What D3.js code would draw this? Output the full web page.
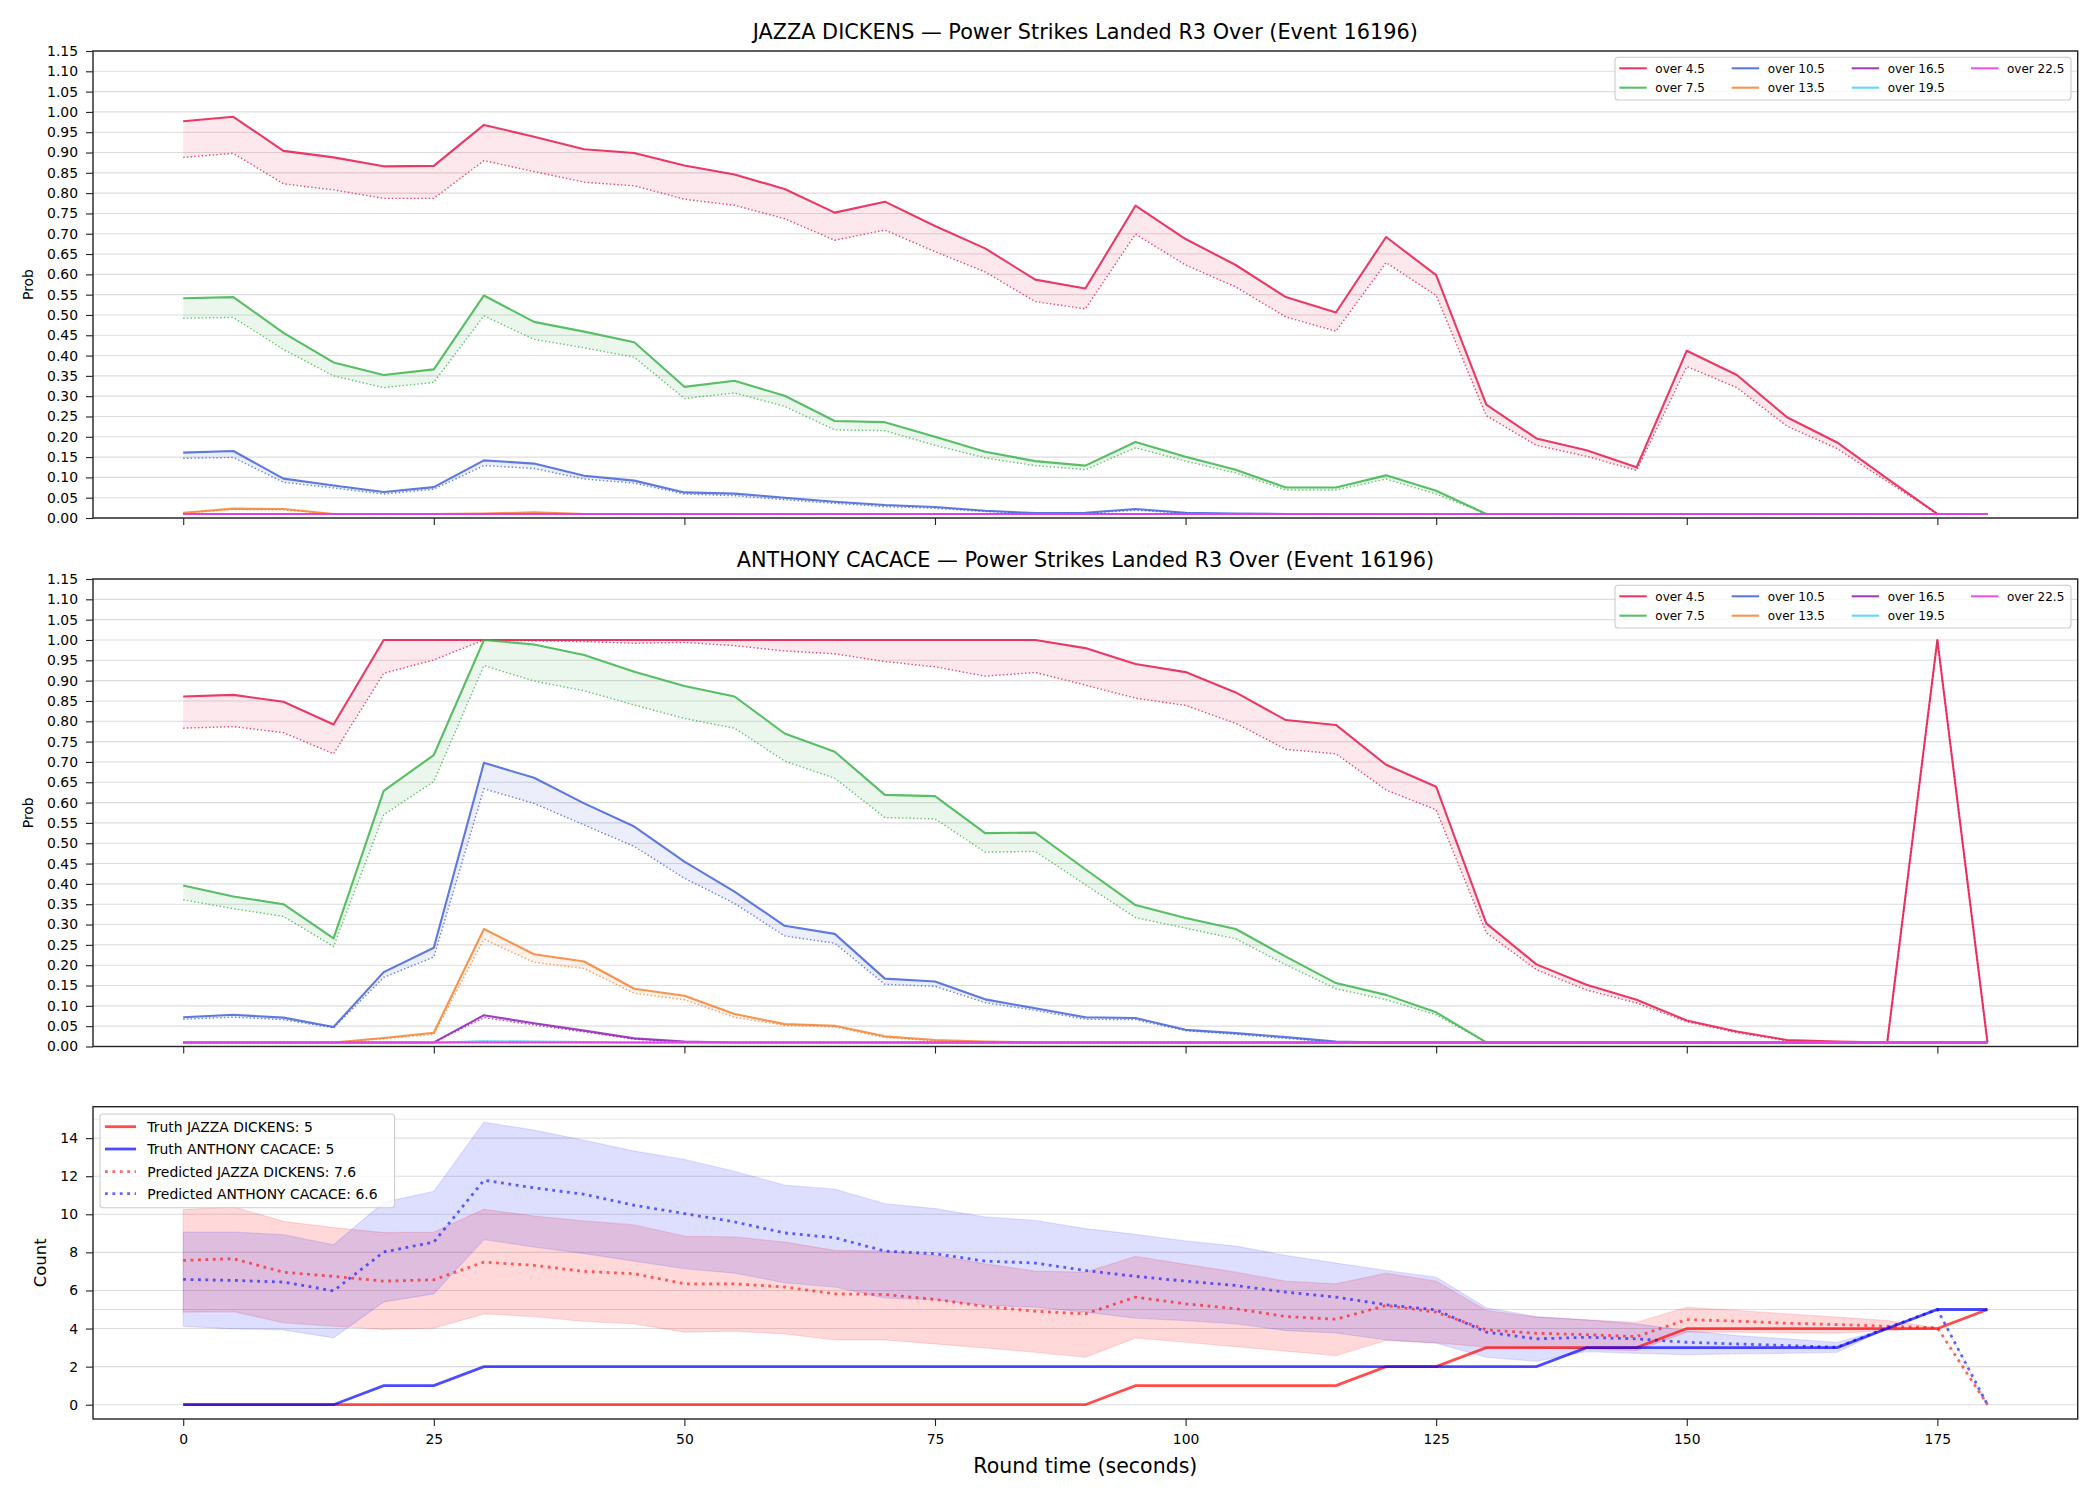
<!DOCTYPE html>
<html><head><meta charset="utf-8">
<script src="https://cdn.jsdelivr.net/npm/d3@7"></script>
<style>body{margin:0;background:#fff}</style>
</head><body>
<svg id="chart" width="2100" height="1500" xmlns="http://www.w3.org/2000/svg"></svg>
<script>
// ---------------- DATA ----------------
const times = [0,5,10,15,20,25,30,35,40,45,50,55,60,65,70,75,80,85,90,95,100,105,110,115,120,125,130,135,140,145,150,155,160,165,170,175,180];
const xTicks = [0,25,50,75,100,125,150,175];
const probTicks = [0,0.05,0.10,0.15,0.20,0.25,0.30,0.35,0.40,0.45,0.50,0.55,0.60,0.65,0.70,0.75,0.80,0.85,0.90,0.95,1.00,1.05,1.10,1.15];
const countTicks = [0,2,4,6,8,10,12,14];
const overLabels = ["over 4.5","over 7.5","over 10.5","over 13.5","over 16.5","over 19.5","over 22.5"];
const overColors = ["#e6194b","#3cb44b","#4363d8","#f58231","#911eb4","#42d4f4","#f032e6"];

// JAZZA DICKENS panel (solid = line, dotted = model)
const jdOver45 = [.977,.988,.904,.888,.866,.867,.968,.939,.908,.899,.868,.846,.810,.752,.779,.719,.664,.587,.565,.769,.687,.623,.544,.506,.692,.598,.279,.196,.167,.125,.412,.352,.248,.186,.097,.01,.01];
const jdOver45Model = [.888,.898,.823,.808,.787,.787,.880,.853,.827,.818,.785,.770,.737,.684,.709,.656,.606,.533,.515,.699,.623,.569,.495,.460,.629,.548,.252,.179,.152,.117,.373,.321,.226,.171,.090,.01,.01];
const jdOver75 = [.541,.544,.456,.383,.352,.366,.548,.483,.459,.433,.323,.338,.301,.239,.236,.200,.163,.140,.129,.187,.151,.119,.075,.075,.105,.067,.01,.01,.01,.01,.01,.01,.01,.01,.01,.01,.01];
const jdOver75Model = [.492,.494,.415,.350,.321,.334,.498,.440,.419,.396,.294,.308,.275,.217,.215,.179,.148,.129,.119,.173,.140,.111,.069,.069,.096,.059,.01,.01,.01,.01,.01,.01,.01,.01,.01,.01,.01];
const jdOver105 = [.161,.165,.097,.080,.064,.076,.142,.134,.104,.092,.063,.060,.050,.040,.032,.027,.018,.012,.013,.022,.013,.011,.01,.01,.01,.01,.01,.01,.01,.01,.01,.01,.01,.01,.01,.01,.01];
const jdOver105Model = [.147,.149,.088,.074,.059,.071,.129,.122,.096,.086,.059,.055,.045,.036,.028,.024,.016,.011,.012,.019,.012,.010,.01,.01,.01,.01,.01,.01,.01,.01,.01,.01,.01,.01,.01,.01,.01];
const jdOver135 = [.013,.023,.022,.01,.01,.01,.011,.014,.01,.01,.01,.01,.01,.01,.01,.01,.01,.01,.01,.01,.01,.01,.01,.01,.01,.01,.01,.01,.01,.01,.01,.01,.01,.01,.01,.01,.01];
const jdOver135Model = [.012,.021,.020,.01,.01,.01,.01,.013,.01,.01,.01,.01,.01,.01,.01,.01,.01,.01,.01,.01,.01,.01,.01,.01,.01,.01,.01,.01,.01,.01,.01,.01,.01,.01,.01,.01,.01];
const jdOver165 = [.01,.01,.01,.01,.01,.01,.01,.01,.01,.01,.01,.01,.01,.01,.01,.01,.01,.01,.01,.01,.01,.01,.01,.01,.01,.01,.01,.01,.01,.01,.01,.01,.01,.01,.01,.01,.01];
const jdOver195 = [.01,.01,.01,.01,.01,.01,.01,.01,.01,.01,.01,.01,.01,.01,.01,.01,.01,.01,.01,.01,.01,.01,.01,.01,.01,.01,.01,.01,.01,.01,.01,.01,.01,.01,.01,.01,.01];
const jdOver225 = [.01,.01,.01,.01,.01,.01,.01,.01,.01,.01,.01,.01,.01,.01,.01,.01,.01,.01,.01,.01,.01,.01,.01,.01,.01,.01,.01,.01,.01,.01,.01,.01,.01,.01,.01,.01,.01];

// ANTHONY CACACE panel
const acOver45 = [.861,.865,.848,.792,1,1,1,1,1,1,1,1,1,1,1,1,1,1,.980,.941,.921,.871,.803,.791,.693,.639,.303,.202,.152,.115,.064,.037,.016,.012,.01,1,.01];
const acOver45Model = [.783,.787,.772,.720,.918,.951,1,.998,.996,.992,.994,.986,.973,.966,.947,.934,.911,.920,.889,.857,.839,.795,.731,.720,.631,.582,.280,.189,.139,.107,.061,.034,.014,.012,.01,1,.01];
const acOver75 = [.396,.369,.350,.266,.629,.717,1,.989,.963,.922,.887,.861,.770,.725,.619,.616,.525,.526,.436,.348,.316,.289,.221,.156,.127,.084,.01,.01,.01,.01,.01,.01,.01,.01,.01,.01,.01];
const acOver75Model = [.361,.339,.320,.246,.570,.652,.937,.899,.875,.840,.807,.783,.702,.660,.563,.560,.478,.480,.398,.317,.291,.265,.201,.142,.115,.078,.01,.01,.01,.01,.01,.01,.01,.01,.01,.01,.01];
const acOver105 = [.072,.078,.071,.048,.183,.243,.698,.661,.598,.541,.455,.381,.297,.277,.167,.160,.116,.094,.072,.070,.041,.033,.023,.012,.01,.01,.01,.01,.01,.01,.01,.01,.01,.01,.01,.01,.01];
const acOver105Model = [.067,.072,.066,.046,.170,.220,.634,.598,.545,.492,.414,.352,.272,.254,.153,.148,.108,.089,.067,.066,.039,.030,.020,.011,.01,.01,.01,.01,.01,.01,.01,.01,.01,.01,.01,.01,.01];
const acOver135 = [.01,.01,.01,.01,.021,.034,.289,.227,.209,.142,.125,.080,.055,.051,.025,.016,.012,.01,.01,.01,.01,.01,.01,.01,.01,.01,.01,.01,.01,.01,.01,.01,.01,.01,.01,.01,.01];
const acOver135Model = [.01,.01,.01,.01,.019,.030,.264,.207,.192,.131,.115,.072,.052,.048,.022,.014,.011,.01,.01,.01,.01,.01,.01,.01,.01,.01,.01,.01,.01,.01,.01,.01,.01,.01,.01,.01,.01];
const acOver165 = [.01,.01,.01,.01,.01,.01,.077,.057,.039,.020,.012,.01,.01,.01,.01,.01,.01,.01,.01,.01,.01,.01,.01,.01,.01,.01,.01,.01,.01,.01,.01,.01,.01,.01,.01,.01,.01];
const acOver165Model = [.01,.01,.01,.01,.01,.01,.071,.053,.036,.018,.011,.01,.01,.01,.01,.01,.01,.01,.01,.01,.01,.01,.01,.01,.01,.01,.01,.01,.01,.01,.01,.01,.01,.01,.01,.01,.01];
const acOver195 = [.01,.01,.01,.01,.01,.01,.013,.012,.011,.01,.01,.01,.01,.01,.01,.01,.01,.01,.01,.01,.01,.01,.01,.01,.01,.01,.01,.01,.01,.01,.01,.01,.01,.01,.01,.01,.01];
const acOver225 = [.01,.01,.01,.01,.01,.01,.01,.01,.01,.01,.01,.01,.01,.01,.01,.01,.01,.01,.01,.01,.01,.01,.01,.01,.01,.01,.01,.01,.01,.01,.01,.01,.01,.01,.01,.01,.01];

// Count panel
const truthDickens = [0,0,0,0,0,0,0,0,0,0,0,0,0,0,0,0,0,0,0,1,1,1,1,1,2,2,3,3,3,3,4,4,4,4,4,4,5];
const truthCacace = [0,0,0,0,1,1,2,2,2,2,2,2,2,2,2,2,2,2,2,2,2,2,2,2,2,2,2,2,3,3,3,3,3,3,4,5,5];
const predDickens = [7.58,7.67,6.96,6.74,6.49,6.56,7.49,7.32,7.00,6.88,6.35,6.35,6.18,5.82,5.79,5.53,5.16,4.91,4.77,5.65,5.30,5.04,4.63,4.49,5.21,4.86,3.93,3.75,3.68,3.58,4.47,4.39,4.28,4.21,4.12,4.04,0];
const predDickensHi = [10.25,10.39,9.63,9.30,9.04,9.07,10.26,9.91,9.65,9.44,8.86,8.81,8.54,8.11,8.07,7.84,7.40,7.02,6.96,7.79,7.37,6.96,6.49,6.35,6.91,6.49,4.95,4.60,4.46,4.33,5.12,4.95,4.77,4.60,4.42,4.04,0];
const predDickensLo = [4.86,4.89,4.30,4.12,3.95,4.02,4.77,4.63,4.37,4.25,3.81,3.86,3.72,3.40,3.40,3.19,2.98,2.75,2.49,3.51,3.28,3.05,2.81,2.58,3.37,3.25,3.02,2.98,2.93,2.84,3.81,3.81,3.77,3.75,3.89,4.04,0];
const predCacace = [6.58,6.53,6.44,5.98,8.02,8.54,11.79,11.39,11.05,10.47,10.04,9.60,9.02,8.77,8.07,7.93,7.54,7.44,7.05,6.74,6.49,6.26,5.91,5.65,5.25,4.98,3.81,3.46,3.54,3.46,3.28,3.19,3.11,3.02,4.04,5.0,0];
const predCacaceHi = [9.07,9.07,8.93,8.40,10.63,11.21,14.84,14.42,13.89,13.32,12.88,12.26,11.53,11.32,10.56,10.30,9.86,9.68,9.25,8.95,8.60,8.33,7.84,7.44,7.05,6.70,5.09,4.63,4.46,4.25,3.89,3.63,3.46,3.28,4.0,5.0,0];
const predCacaceLo = [4.11,3.98,3.93,3.51,5.40,5.82,8.67,8.28,7.93,7.54,7.14,6.91,6.40,6.18,5.60,5.51,5.21,5.12,4.86,4.54,4.42,4.25,3.89,3.77,3.40,3.23,2.49,2.28,2.79,2.70,2.63,2.67,2.70,2.75,4.0,5.0,0];
const countLegend = ["Truth JAZZA DICKENS: 5","Truth ANTHONY CACACE: 5","Predicted JAZZA DICKENS: 7.6","Predicted ANTHONY CACACE: 6.6"];

// ---------------- DRAW ----------------
const FONT = "'DejaVu Sans', sans-serif";
const svg = d3.select("#chart");
svg.append("rect").attr("width",2100).attr("height",1500).attr("fill","#fff");

const X0 = 93, X1 = 2077.7;
const x = d3.scaleLinear().domain([-9,189]).range([X0,X1]);
const SPINE = "#222";
const GRID = "#dddddd";

function frame(g, y, top, bottom, yTicks, fmt, withXLabels, extraGrid){
  // grid
  g.append("g").selectAll("line").data(yTicks).join("line")
    .attr("x1",X0).attr("x2",X1).attr("y1",d=>y(d)).attr("y2",d=>y(d))
    .attr("stroke",GRID).attr("stroke-width",1.1);
  if(extraGrid){
    g.append("g").selectAll("line").data(extraGrid).join("line")
      .attr("x1",X0).attr("x2",X1).attr("y1",d=>y(d.v)).attr("y2",d=>y(d.v))
      .attr("stroke",d=>d.c).attr("stroke-width",1.1);
  }
}
function axes(g, y, top, bottom, yTicks, fmt, withXLabels){
  const ya = d3.axisLeft(y).tickValues(yTicks).tickFormat(fmt).tickSizeInner(7).tickSizeOuter(0).tickPadding(8);
  const yg = g.append("g").attr("transform",`translate(${X0},0)`).call(ya);
  yg.select(".domain").remove();
  yg.selectAll("line").attr("stroke",SPINE).attr("stroke-width",1.1);
  yg.selectAll("text").attr("font-family",FONT).attr("font-size",13.9).attr("fill","#000");
  const xa = d3.axisBottom(x).tickValues(xTicks).tickFormat(withXLabels? d3.format("d") : "").tickSizeInner(7).tickSizeOuter(0).tickPadding(8);
  const xg = g.append("g").attr("transform",`translate(0,${bottom})`).call(xa);
  xg.select(".domain").remove();
  xg.selectAll("line").attr("stroke",SPINE).attr("stroke-width",1.1);
  xg.selectAll("text").attr("font-family",FONT).attr("font-size",13.9).attr("fill","#000");
  g.append("rect").attr("x",X0).attr("y",top).attr("width",X1-X0).attr("height",bottom-top)
    .attr("fill","none").attr("stroke",SPINE).attr("stroke-width",1.4);
}

function probPanel(top, bottom, title, series){
  const g = svg.append("g");
  const y = d3.scaleLinear().domain([0,1.15]).range([bottom,top]);
  frame(g, y, top, bottom, probTicks);
  const clipId = "clip"+Math.round(top);
  svg.append("clipPath").attr("id",clipId).append("rect").attr("x",X0).attr("y",top).attr("width",X1-X0).attr("height",bottom-top);
  const plot = g.append("g").attr("clip-path",`url(#${clipId})`);
  const line = d3.line().x((d,i)=>x(times[i])).y(d=>y(d));
  series.forEach(s=>{
    const area = d3.area().x((d,i)=>x(times[i])).y0((d,i)=>y(s.model[i])).y1(d=>y(d));
    plot.append("path").attr("d",area(s.line)).attr("fill",s.color).attr("fill-opacity",0.1);
    plot.append("path").attr("d",line(s.model)).attr("fill","none").attr("stroke",s.color)
      .attr("stroke-opacity",0.8).attr("stroke-width",1.4).attr("stroke-dasharray","1.4,2.3");
    plot.append("path").attr("d",line(s.line)).attr("fill","none").attr("stroke",s.color)
      .attr("stroke-opacity",0.85).attr("stroke-width",2.1).attr("stroke-linejoin","round");
  });
  axes(g, y, top, bottom, probTicks, d3.format(".2f"), false);
  g.append("text").attr("x",(X0+X1)/2).attr("y",top-19).attr("dy","0.35em").attr("text-anchor","middle")
    .attr("font-family",FONT).attr("font-size",20.8).text(title);
  g.append("text").attr("transform",`translate(28,${(top+bottom)/2}) rotate(-90)`).attr("dy","0.35em")
    .attr("text-anchor","middle").attr("font-family",FONT).attr("font-size",13.9).text("Prob");
  // legend
  const lg = g.append("g");
  lg.append("rect").attr("x",1615).attr("y",top+6.3).attr("width",456).attr("height",42.7).attr("rx",3)
    .attr("fill","#fff").attr("fill-opacity",0.8).attr("stroke","#cccccc").attr("stroke-width",1.1);
  const colX = [1619.3,1731.7,1851.7,1971];
  series.forEach((s,i)=>{
    const c = Math.floor(i/2), r = i%2;
    const cy = top + (r===0? 17.3 : 36.7);
    lg.append("line").attr("x1",colX[c]).attr("x2",colX[c]+27.4).attr("y1",cy).attr("y2",cy)
      .attr("stroke",s.color).attr("stroke-opacity",0.85).attr("stroke-width",2.1);
    lg.append("text").attr("x",colX[c]+36).attr("y",cy).attr("dy","0.35em").attr("font-family",FONT)
      .attr("font-size",12).text(s.label);
  });
}

const jdSeries = [
  [jdOver45,jdOver45Model],[jdOver75,jdOver75Model],[jdOver105,jdOver105Model],[jdOver135,jdOver135Model],
  [jdOver165,jdOver165],[jdOver195,jdOver195],[jdOver225,jdOver225]
].map((p,i)=>({label:overLabels[i],color:overColors[i],line:p[0],model:p[1]}));
const acSeries = [
  [acOver45,acOver45Model],[acOver75,acOver75Model],[acOver105,acOver105Model],[acOver135,acOver135Model],
  [acOver165,acOver165Model],[acOver195,acOver195],[acOver225,acOver225]
].map((p,i)=>({label:overLabels[i],color:overColors[i],line:p[0],model:p[1]}));

probPanel(51, 518, "JAZZA DICKENS — Power Strikes Landed R3 Over (Event 16196)", jdSeries);
probPanel(579, 1046.5, "ANTHONY CACACE — Power Strikes Landed R3 Over (Event 16196)", acSeries);

// Count panel
(function(){
  const top = 1106.7, bottom = 1419;
  const g = svg.append("g");
  const y = d3.scaleLinear().domain([-0.75,15.65]).range([bottom,top]);
  frame(g, y, top, bottom, countTicks, null, true, [{v:5,c:GRID},{v:15,c:"#ececec"}]);
  const RED = "#ff0000", BLUE = "#0000ff";
  const band = (hi,lo)=>d3.area().x((d,i)=>x(times[i])).y0((d,i)=>y(lo[i])).y1((d,i)=>y(hi[i]))(hi);
  const line = d3.line().x((d,i)=>x(times[i])).y(d=>y(d));
  g.append("path").attr("d",band(predDickensHi,predDickensLo)).attr("fill",RED).attr("fill-opacity",0.15)
    .attr("stroke",RED).attr("stroke-opacity",0.12).attr("stroke-width",1.2);
  g.append("path").attr("d",band(predCacaceHi,predCacaceLo)).attr("fill",BLUE).attr("fill-opacity",0.13)
    .attr("stroke",BLUE).attr("stroke-opacity",0.1).attr("stroke-width",1.2);
  g.append("path").attr("d",line(truthDickens)).attr("fill","none").attr("stroke",RED).attr("stroke-opacity",0.7).attr("stroke-width",2.8);
  g.append("path").attr("d",line(truthCacace)).attr("fill","none").attr("stroke",BLUE).attr("stroke-opacity",0.7).attr("stroke-width",2.8);
  g.append("path").attr("d",line(predDickens)).attr("fill","none").attr("stroke",RED).attr("stroke-opacity",0.6).attr("stroke-width",2.8).attr("stroke-dasharray","2.8,4.6");
  g.append("path").attr("d",line(predCacace)).attr("fill","none").attr("stroke",BLUE).attr("stroke-opacity",0.6).attr("stroke-width",2.8).attr("stroke-dasharray","2.8,4.6");
  axes(g, y, top, bottom, countTicks, d3.format("d"), true);
  g.append("text").attr("transform",`translate(40,${(top+bottom)/2}) rotate(-90)`).attr("dy","0.35em")
    .attr("text-anchor","middle").attr("font-family",FONT).attr("font-size",16.5).text("Count");
  g.append("text").attr("x",(X0+X1)/2).attr("y",1466).attr("dy","0.35em").attr("text-anchor","middle")
    .attr("font-family",FONT).attr("font-size",20.5).text("Round time (seconds)");
  // legend
  const lg = g.append("g");
  lg.append("rect").attr("x",100).attr("y",1114).attr("width",294.6).attr("height",93.7).attr("rx",3)
    .attr("fill","#fff").attr("fill-opacity",0.8).attr("stroke","#cccccc").attr("stroke-width",1.1);
  const rows = [1126.7,1149,1171.7,1193.7];
  const styles = [{c:RED,d:null,o:0.7},{c:BLUE,d:null,o:0.7},{c:RED,d:"2.8,4.6",o:0.6},{c:BLUE,d:"2.8,4.6",o:0.6}];
  countLegend.forEach((t,i)=>{
    const l = lg.append("line").attr("x1",105).attr("x2",136).attr("y1",rows[i]).attr("y2",rows[i])
      .attr("stroke",styles[i].c).attr("stroke-opacity",styles[i].o).attr("stroke-width",2.8);
    if(styles[i].d) l.attr("stroke-dasharray",styles[i].d);
    lg.append("text").attr("x",147.3).attr("y",rows[i]).attr("dy","0.35em").attr("font-family",FONT)
      .attr("font-size",13.9).text(t);
  });
})();
</script>
</body></html>
